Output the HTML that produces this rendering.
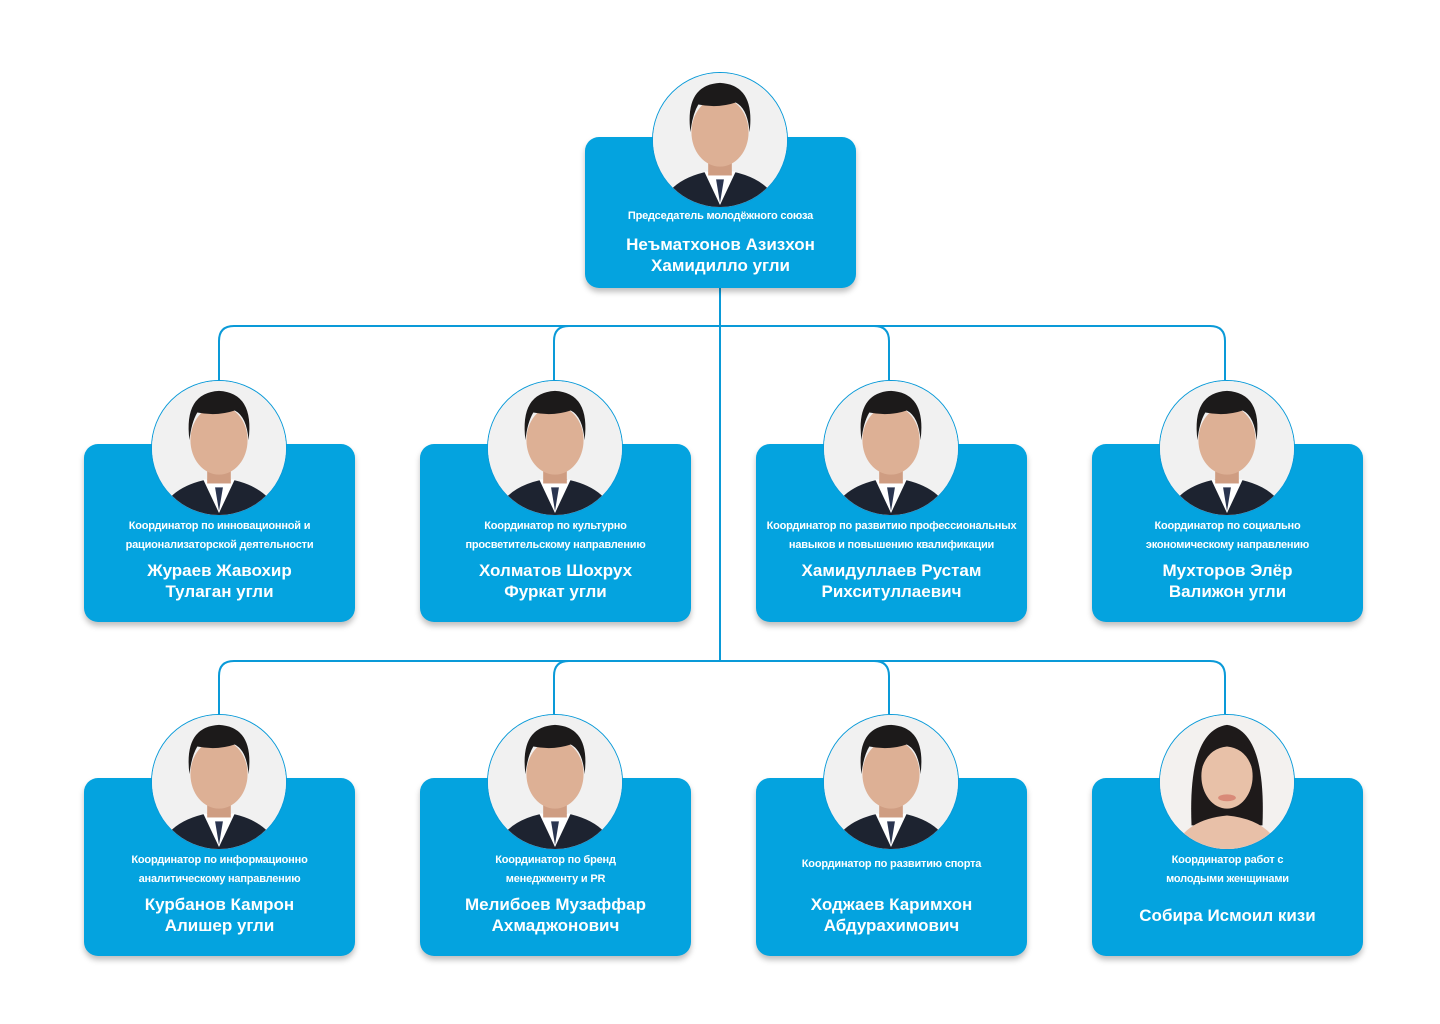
<!DOCTYPE html>
<html><head><meta charset="utf-8"><style>
body{margin:0;width:1440px;height:1024px;background:#fff;position:relative;overflow:hidden;font-family:"Liberation Sans",sans-serif}
.card{position:absolute;width:271px;height:178px;background:#04a3df;border-radius:14px;box-shadow:0 4px 6px rgba(0,0,0,0.25);color:#fff;text-align:center}
.ph{position:absolute;width:134px;height:134px;border-radius:50%;border:1.5px solid #0a9ad8;background:#fff;overflow:hidden}
.ph svg{display:block}
.t{position:absolute;left:-10px;right:-10px;font-size:11px;font-weight:bold;line-height:19px;white-space:nowrap;letter-spacing:-0.2px}
.n{position:absolute;left:0;right:0;font-size:17px;font-weight:bold;line-height:21px;white-space:nowrap}
</style></head><body>
<svg width="1440" height="1024" style="position:absolute;left:0;top:0" fill="none" stroke="#0a9ad8" stroke-width="2">
<line x1="720" y1="288" x2="720" y2="661"/>
<path d="M219 380 V341 Q219 326 234 326 H1210 Q1225 326 1225 341 V380"/>
<path d="M554 380 V341 Q554 326 569 326 H874 Q889 326 889 341 V380"/>
<path d="M219 714 V676 Q219 661 234 661 H1210 Q1225 661 1225 676 V714"/>
<path d="M554 714 V676 Q554 661 569 661 H874 Q889 661 889 676 V714"/>
</svg>
<svg width="0" height="0" style="position:absolute"><defs>
<g id="man"><rect width="136" height="136" fill="#f1f1f1"/><path d="M8 136 Q18 104 68 98 Q118 104 128 136Z" fill="#1d2330"/><path d="M52 100 L68 134 L84 100Z" fill="#fff"/><path d="M64 108 L68 132 L72 108Z" fill="#2a3550"/><rect x="56" y="84" width="24" height="20" fill="#cf9d82"/><ellipse cx="68" cy="60" rx="29" ry="35" fill="#ddb095"/><path d="M38 60 Q32 12 68 10 Q104 12 98 60 Q96 36 84 30 Q66 36 46 32 Q40 42 38 60Z" fill="#1c1a1a"/></g>
<g id="woman"><rect width="136" height="136" fill="#f3f1ef"/><path d="M32 112 Q28 16 68 10 Q108 16 104 112Z" fill="#1e1a1a"/><path d="M14 136 Q26 106 68 102 Q110 106 122 136Z" fill="#e8c0a8"/><ellipse cx="68" cy="62" rx="26" ry="33" fill="#e8c1a8"/><path d="M42 56 Q44 24 68 22 Q92 24 94 56 Q88 34 68 32 Q48 34 42 56Z" fill="#1e1a1a"/><ellipse cx="68" cy="84" rx="9" ry="3.5" fill="#d98a78"/></g>
</defs></svg>

<div class="card" style="left:585px;top:137px;height:151px"><div class="t" style="top:70px">Председатель молодёжного союза</div><div class="n" style="top:97px">Неъматхонов Азизхон<br>Хамидилло угли</div></div>
<div class="ph" style="left:652px;top:72px"><svg width="134" height="134" viewBox="0 0 136 136"><use href="#man"/></svg></div>

<div class="card" style="left:84px;top:444px"><div class="t" style="top:73px">Координатор по инновационной и<br>рационализаторской деятельности</div><div class="n" style="top:116px">Жураев Жавохир<br>Тулаган угли</div></div>
<div class="ph" style="left:151px;top:380px"><svg width="134" height="134" viewBox="0 0 136 136"><use href="#man"/></svg></div>

<div class="card" style="left:420px;top:444px"><div class="t" style="top:73px">Координатор по культурно<br>просветительскому направлению</div><div class="n" style="top:116px">Холматов Шохрух<br>Фуркат угли</div></div>
<div class="ph" style="left:487px;top:380px"><svg width="134" height="134" viewBox="0 0 136 136"><use href="#man"/></svg></div>

<div class="card" style="left:756px;top:444px"><div class="t" style="top:73px">Координатор по развитию профессиональных<br>навыков и повышению квалификации</div><div class="n" style="top:116px">Хамидуллаев Рустам<br>Рихситуллаевич</div></div>
<div class="ph" style="left:823px;top:380px"><svg width="134" height="134" viewBox="0 0 136 136"><use href="#man"/></svg></div>

<div class="card" style="left:1092px;top:444px"><div class="t" style="top:73px">Координатор по социально<br>экономическому направлению</div><div class="n" style="top:116px">Мухторов Элёр<br>Валижон угли</div></div>
<div class="ph" style="left:1159px;top:380px"><svg width="134" height="134" viewBox="0 0 136 136"><use href="#man"/></svg></div>

<div class="card" style="left:84px;top:778px"><div class="t" style="top:73px">Координатор по информационно<br>аналитическому направлению</div><div class="n" style="top:116px">Курбанов Камрон<br>Алишер угли</div></div>
<div class="ph" style="left:151px;top:714px"><svg width="134" height="134" viewBox="0 0 136 136"><use href="#man"/></svg></div>

<div class="card" style="left:420px;top:778px"><div class="t" style="top:73px">Координатор по бренд<br>менеджменту и PR</div><div class="n" style="top:116px">Мелибоев Музаффар<br>Ахмаджонович</div></div>
<div class="ph" style="left:487px;top:714px"><svg width="134" height="134" viewBox="0 0 136 136"><use href="#man"/></svg></div>

<div class="card" style="left:756px;top:778px"><div class="t" style="top:77px">Координатор по развитию спорта</div><div class="n" style="top:116px">Ходжаев Каримхон<br>Абдурахимович</div></div>
<div class="ph" style="left:823px;top:714px"><svg width="134" height="134" viewBox="0 0 136 136"><use href="#man"/></svg></div>

<div class="card" style="left:1092px;top:778px"><div class="t" style="top:73px">Координатор работ с<br>молодыми женщинами</div><div class="n" style="top:127px">Собира Исмоил кизи</div></div>
<div class="ph" style="left:1159px;top:714px"><svg width="134" height="134" viewBox="0 0 136 136"><use href="#woman"/></svg></div>
</body></html>
